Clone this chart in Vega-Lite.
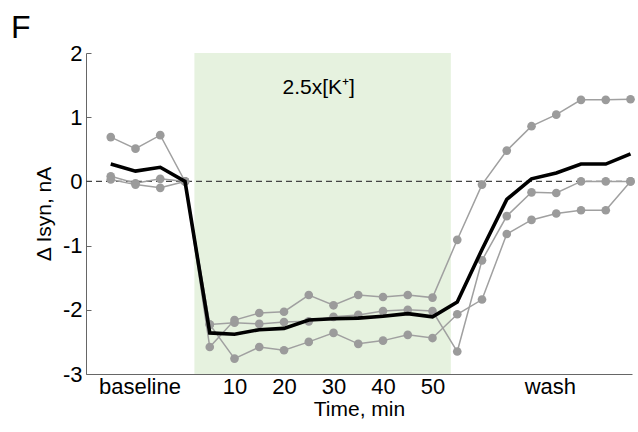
{
  "$schema": "https://vega.github.io/schema/vega-lite/v6.json",
  "width": 546,
  "height": 321,
  "autosize": "none",
  "padding": {"left": 86, "top": 53, "right": 6, "bottom": 58},
  "background": "white",
  "title": {"text": "F", "anchor": "start", "frame": "group", "dx": -75, "offset": -3, "fontSize": 32, "fontWeight": "normal", "font": "Liberation Sans", "color": "black"},
  "config": {
    "view": {"stroke": null},
    "axis": {"labelFont": "Liberation Sans", "titleFont": "Liberation Sans", "labelFontSize": 22, "titleFontSize": 21, "titleFontWeight": "normal", "labelColor": "black", "titleColor": "black", "domainColor": "#666666", "tickColor": "#666666", "grid": false}
  },
  "datasets": {
    "series": [
      {"series": "s1", "t": -15, "v": 0.69}, {"series": "s1", "t": -10, "v": 0.51}, {"series": "s1", "t": -5, "v": 0.72}, {"series": "s1", "t": 0, "v": 0.0},
      {"series": "s1", "t": 5, "v": -2.58}, {"series": "s1", "t": 10, "v": -2.16}, {"series": "s1", "t": 15, "v": -2.05}, {"series": "s1", "t": 20, "v": -2.03},
      {"series": "s1", "t": 25, "v": -1.77}, {"series": "s1", "t": 30, "v": -1.93}, {"series": "s1", "t": 35, "v": -1.77}, {"series": "s1", "t": 40, "v": -1.80},
      {"series": "s1", "t": 45, "v": -1.77}, {"series": "s1", "t": 50, "v": -1.81}, {"series": "s1", "t": 55, "v": -0.91}, {"series": "s1", "t": 60, "v": -0.05},
      {"series": "s1", "t": 65, "v": 0.48}, {"series": "s1", "t": 70, "v": 0.86}, {"series": "s1", "t": 75, "v": 1.04}, {"series": "s1", "t": 80, "v": 1.27},
      {"series": "s1", "t": 85, "v": 1.27}, {"series": "s1", "t": 90, "v": 1.28},
      {"series": "s2", "t": -15, "v": 0.08}, {"series": "s2", "t": -10, "v": -0.03}, {"series": "s2", "t": -5, "v": 0.04}, {"series": "s2", "t": 0, "v": 0.0},
      {"series": "s2", "t": 5, "v": -2.23}, {"series": "s2", "t": 10, "v": -2.20}, {"series": "s2", "t": 15, "v": -2.22}, {"series": "s2", "t": 20, "v": -2.19},
      {"series": "s2", "t": 25, "v": -2.18}, {"series": "s2", "t": 30, "v": -2.11}, {"series": "s2", "t": 35, "v": -2.08}, {"series": "s2", "t": 40, "v": -2.02},
      {"series": "s2", "t": 45, "v": -2.00}, {"series": "s2", "t": 50, "v": -2.02}, {"series": "s2", "t": 55, "v": -2.65}, {"series": "s2", "t": 60, "v": -1.23},
      {"series": "s2", "t": 65, "v": -0.54}, {"series": "s2", "t": 70, "v": -0.17}, {"series": "s2", "t": 75, "v": -0.18}, {"series": "s2", "t": 80, "v": 0.0},
      {"series": "s2", "t": 85, "v": 0.0}, {"series": "s2", "t": 90, "v": 0.0},
      {"series": "s3", "t": -15, "v": 0.03}, {"series": "s3", "t": -10, "v": -0.05}, {"series": "s3", "t": -5, "v": -0.10}, {"series": "s3", "t": 0, "v": 0.0},
      {"series": "s3", "t": 5, "v": -2.23}, {"series": "s3", "t": 10, "v": -2.76}, {"series": "s3", "t": 15, "v": -2.58}, {"series": "s3", "t": 20, "v": -2.63},
      {"series": "s3", "t": 25, "v": -2.50}, {"series": "s3", "t": 30, "v": -2.36}, {"series": "s3", "t": 35, "v": -2.53}, {"series": "s3", "t": 40, "v": -2.48},
      {"series": "s3", "t": 45, "v": -2.39}, {"series": "s3", "t": 50, "v": -2.44}, {"series": "s3", "t": 55, "v": -2.07}, {"series": "s3", "t": 60, "v": -1.84},
      {"series": "s3", "t": 65, "v": -0.82}, {"series": "s3", "t": 70, "v": -0.60}, {"series": "s3", "t": 75, "v": -0.50}, {"series": "s3", "t": 80, "v": -0.45},
      {"series": "s3", "t": 85, "v": -0.45}, {"series": "s3", "t": 90, "v": 0.0},
      {"series": "mean", "t": -15, "v": 0.27}, {"series": "mean", "t": -10, "v": 0.16}, {"series": "mean", "t": -5, "v": 0.22}, {"series": "mean", "t": 0, "v": 0.0},
      {"series": "mean", "t": 5, "v": -2.36}, {"series": "mean", "t": 10, "v": -2.38}, {"series": "mean", "t": 15, "v": -2.31}, {"series": "mean", "t": 20, "v": -2.29},
      {"series": "mean", "t": 25, "v": -2.16}, {"series": "mean", "t": 30, "v": -2.14}, {"series": "mean", "t": 35, "v": -2.13}, {"series": "mean", "t": 40, "v": -2.10},
      {"series": "mean", "t": 45, "v": -2.06}, {"series": "mean", "t": 50, "v": -2.11}, {"series": "mean", "t": 55, "v": -1.88}, {"series": "mean", "t": 60, "v": -1.06},
      {"series": "mean", "t": 65, "v": -0.28}, {"series": "mean", "t": 70, "v": 0.04}, {"series": "mean", "t": 75, "v": 0.13}, {"series": "mean", "t": 80, "v": 0.27},
      {"series": "mean", "t": 85, "v": 0.27}, {"series": "mean", "t": 90, "v": 0.43}
    ],
    "band": [{"t": 1.9, "t2": 53.7}],
    "label": [{"t": 27, "v": 1.45, "text": "2.5x[K⁺]"}],
    "zero": [{"v": 0}]
  },
  "layer": [
    {
      "data": {"name": "band"},
      "mark": {"type": "rect", "color": "#e6f2df"},
      "encoding": {
        "x": {"field": "t", "type": "quantitative", "scale": {"domain": [-20, 90.3], "nice": false, "zero": false},
          "title": "Time, min",
          "axis": {
            "values": [-9.2, 5, 10, 15, 20, 25, 30, 35, 40, 45, 50, 73.7],
            "labelExpr": "datum.value < 0 ? 'baseline' : (datum.value > 60 ? 'wash' : (datum.value % 10 == 0 ? datum.label : ''))",
            "tickSize": -5,
            "tickOpacity": {"condition": {"test": "datum.value < 0 || datum.value > 60", "value": 0}, "value": 1},
            "labelPadding": 7,
            "labelFlush": false,
            "labelOverlap": false,
            "titlePadding": 1
          }
        },
        "x2": {"field": "t2"}
      }
    },
    {
      "data": {"name": "zero"},
      "mark": {"type": "rule", "color": "#444444", "strokeDash": [6, 4], "strokeWidth": 1.2},
      "encoding": {
        "y": {"field": "v", "type": "quantitative", "scale": {"domain": [-3, 2], "nice": false, "zero": false},
          "title": "Δ Isyn, nA",
          "axis": {"values": [-3, -2, -1, 0, 1, 2], "labelExpr": "toString(datum.value)", "tickSize": -5, "labelPadding": 9, "titlePadding": 8}
        }
      }
    },
    {
      "data": {"name": "series"},
      "transform": [{"filter": "datum.series != 'mean'"}],
      "mark": {"type": "line", "color": "#a0a0a0", "strokeWidth": 1.5, "point": {"filled": true, "size": 75, "color": "#9b9b9b", "opacity": 1}},
      "encoding": {
        "x": {"field": "t", "type": "quantitative", "title": "Time, min"},
        "y": {"field": "v", "type": "quantitative", "title": "Δ Isyn, nA"},
        "detail": {"field": "series"}
      }
    },
    {
      "data": {"name": "series"},
      "transform": [{"filter": "datum.series == 'mean'"}],
      "mark": {"type": "line", "color": "black", "strokeWidth": 3.6},
      "encoding": {
        "x": {"field": "t", "type": "quantitative", "title": "Time, min"},
        "y": {"field": "v", "type": "quantitative", "title": "Δ Isyn, nA"}
      }
    },
    {
      "data": {"name": "label"},
      "mark": {"type": "text", "font": "Liberation Sans", "fontSize": 21, "color": "black", "align": "center", "baseline": "middle"},
      "encoding": {
        "x": {"field": "t", "type": "quantitative", "title": "Time, min"},
        "y": {"field": "v", "type": "quantitative", "title": "Δ Isyn, nA"},
        "text": {"field": "text"}
      }
    }
  ]
}
